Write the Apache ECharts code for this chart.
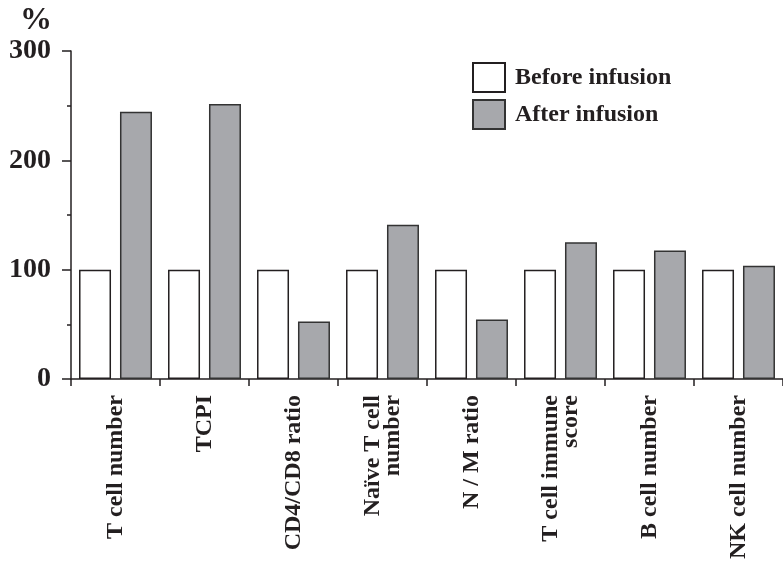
<!DOCTYPE html>
<html>
<head>
<meta charset="utf-8">
<script src="https://cdn.jsdelivr.net/npm/echarts@6/dist/echarts.min.js"></script>
<style>html,body{margin:0;padding:0;background:#fff}#c{width:783px;height:562px}</style>
</head>
<body>
<div id="c"></div>
<script>
const categories = ['T cell number', 'TCPI', 'CD4/CD8 ratio', 'Naïve T cell\nnumber', 'N / M ratio', 'T cell immune\nscore', 'B cell number', 'NK cell number'];
const beforeValues = [100, 100, 100, 100, 100, 100, 100, 100];
const afterValues = [244.5, 251.5, 52.5, 141, 54.5, 125, 117.5, 103.5];
const yTicks = [0, 100, 200, 300];
const seriesNames = ['Before infusion', 'After infusion'];

const font = '"Liberation Serif", "Times New Roman", serif';
const chart = echarts.init(document.getElementById('c'), null, {renderer: 'canvas'});
chart.setOption({
  animation: false,
  backgroundColor: '#fff',
  title: {
    text: '%', left: 15, top: 0,
    textStyle: {fontFamily: font, fontWeight: 'bold', fontSize: 32, color: '#231f20'}
  },
  legend: {
    orient: 'vertical', left: 467, top: 57,
    itemWidth: 32, itemHeight: 29, itemGap: 6,
    icon: 'rect',
    data: seriesNames,
    textStyle: {fontFamily: font, fontWeight: 'bold', fontSize: 24, color: '#231f20', padding: [0, 0, 0, 5]}
  },
  grid: {left: 71, top: 51, bottom: 181, right: -5, containLabel: false},
  xAxis: {
    type: 'category', data: categories,
    axisLine: {lineStyle: {color: '#231f20', width: 1.5}},
    axisTick: {show: true, length: 7, lineStyle: {color: '#231f20', width: 1.5}},
    axisLabel: {
      rotate: 90, margin: 16, interval: 0,
      fontFamily: font, fontWeight: 'bold', fontSize: 24, color: '#231f20', lineHeight: 20
    }
  },
  yAxis: {
    type: 'value', min: 0, max: 300, interval: 100,
    axisLine: {show: true, lineStyle: {color: '#231f20', width: 1.5}},
    axisTick: {show: true, length: 9, lineStyle: {color: '#231f20', width: 1.5}},
    minorTick: {show: true, splitNumber: 2, length: 4, lineStyle: {color: '#231f20', width: 1.5}},
    splitLine: {show: false},
    axisLabel: {
      margin: 20, fontFamily: font, fontWeight: 'bold', fontSize: 28, color: '#231f20',
      formatter: v => yTicks.includes(v) ? String(v) : ''
    }
  },
  series: [
    {
      name: seriesNames[0], type: 'bar', data: beforeValues,
      barWidth: 32, barGap: '28%',
      itemStyle: {color: '#ffffff', borderColor: '#231f20', borderWidth: 1.5}
    },
    {
      name: seriesNames[1], type: 'bar', data: afterValues,
      barWidth: 32,
      itemStyle: {color: '#a7a8ac', borderColor: '#333333', borderWidth: 1.5}
    }
  ]
});
</script>
</body>
</html>
